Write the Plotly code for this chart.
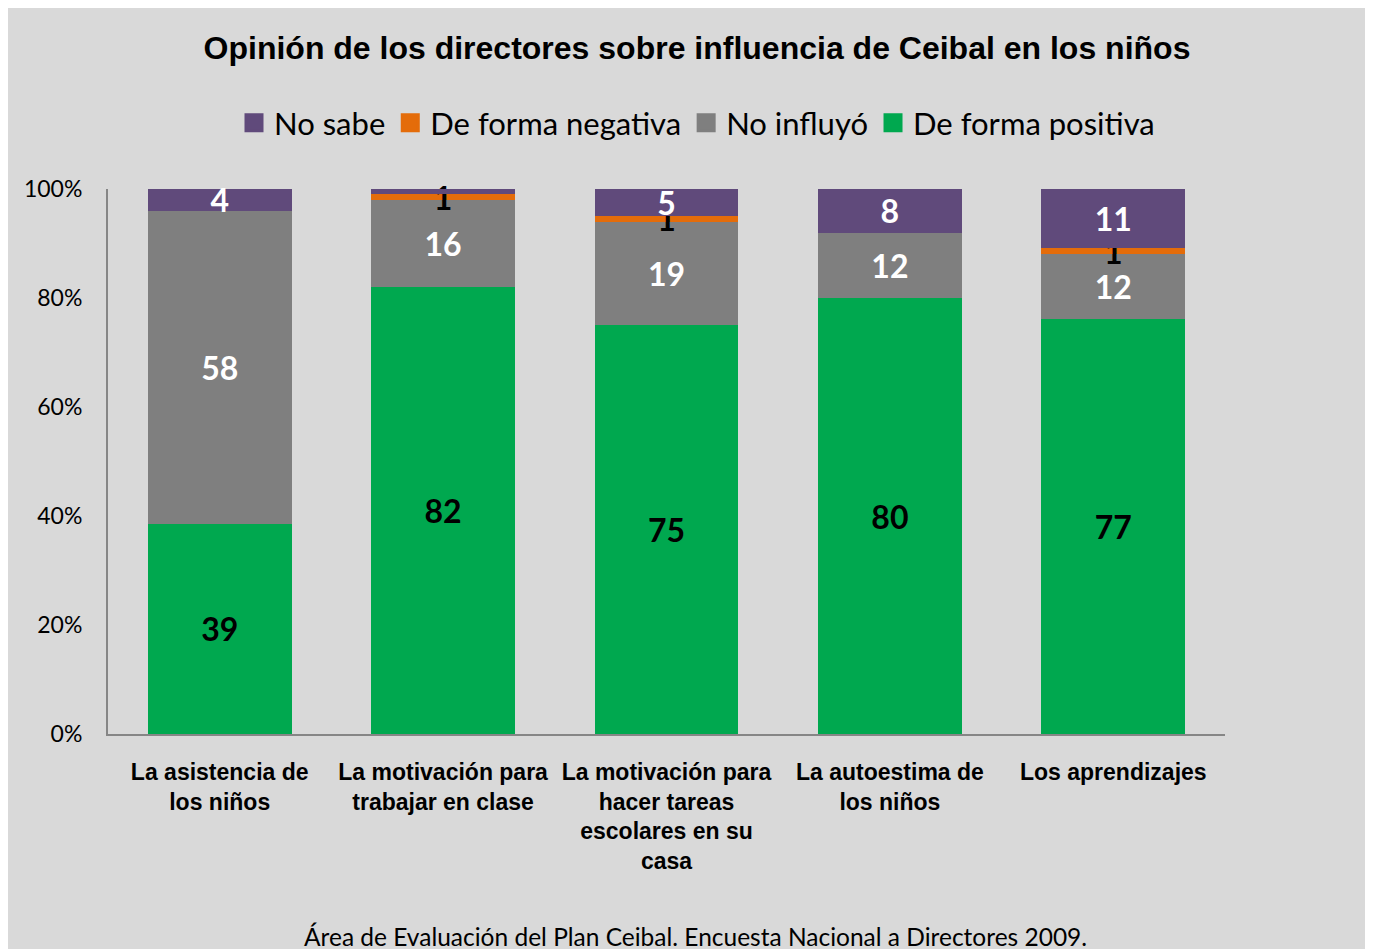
import plotly.graph_objects as go

# ---- data ----
categories = ["La asistencia de los niños", "La motivación para trabajar en clase",
              "La motivación para hacer tareas escolares en su casa",
              "La autoestima de los niños", "Los aprendizajes"]
tick_labels = ["La asistencia de<br>los niños", "La motivación para<br>trabajar en clase",
               "La motivación para<br>hacer tareas<br>escolares en su<br>casa",
               "La autoestima de<br>los niños", "Los aprendizajes"]
positiva = [39, 82, 75, 80, 77]
no_influyo = [58, 16, 19, 12, 12]
negativa = [0, 1, 1, 0, 1]
no_sabe = [4, 1, 5, 8, 11]

lbl_positiva = ["39", "82", "75", "80", "77"]
lbl_no_influyo = ["58", "16", "19", "12", "12"]
lbl_negativa = ["", "1", "1", "", "1"]
lbl_no_sabe = ["4", "", "5", "8", "11"]

y_ticks = [0, 20, 40, 60, 80, 100]
y_tick_labels = ["0%", "20%", "40%", "60%", "80%", "100%"]

# ---- style ----
C_GREEN = "#00a84f"
C_GRAY = "#7f7f7f"
C_ORANGE = "#e46c0a"
C_PURPLE = "#604a7b"
BODY = "Lato"
ARIAL = "Liberation Sans, Arial"

series = [
    ("De forma positiva", positiva, lbl_positiva, C_GREEN, "black"),
    ("No influyó", no_influyo, lbl_no_influyo, C_GRAY, "white"),
    ("De forma negativa", negativa, lbl_negativa, C_ORANGE, "black"),
    ("No sabe", no_sabe, lbl_no_sabe, C_PURPLE, "white"),
]

fig = go.Figure()
for name, vals, labels, color, tcolor in series:
    fig.add_trace(go.Bar(
        x=categories, y=vals, name=name, showlegend=False,
        marker=dict(color=color, line=dict(width=0)),
        text=labels, textposition="inside", insidetextanchor="middle",
        textangle=0, constraintext="none", cliponaxis=False,
        textfont=dict(family=BODY, size=32, color=tcolor, weight="bold"),
        hoverinfo="skip",
    ))

# legend entries with larger square swatches
for name, vals, labels, color, tcolor in reversed(series):
    fig.add_trace(go.Scatter(
        x=[None], y=[None], mode="markers", name=name,
        marker=dict(symbol="square", size=18, color=color,
                    line=dict(color=color, width=3)),
        hoverinfo="skip",
    ))

W, H = 1373, 949
L, R, T, B = 100, 156, 181, 223
pw, ph = W - L - R, H - T - B
BOT = H - B

fig.update_layout(
    width=W, height=H,
    barmode="stack", barnorm="percent", bargap=0.356,
    paper_bgcolor="#d9d9d9", plot_bgcolor="rgba(0,0,0,0)",
    margin=dict(l=L, r=R, t=T, b=B, autoexpand=False),
    title=dict(text="<b>Opinión de los directores sobre influencia de Ceibal en los niños</b>",
               font=dict(family=ARIAL, size=32, color="black"),
               x=689 / W, xanchor="center", y=1 - 40 / H, yanchor="middle",
               xref="container", yref="container"),
    legend=dict(orientation="h", traceorder="normal", itemsizing="trace",
                x=(689 - L) / pw, xanchor="center",
                y=(BOT - 115) / ph, yanchor="middle",
                font=dict(family=BODY, size=31, color="black"),
                bgcolor="rgba(0,0,0,0)", itemclick=False, itemwidth=30),
    showlegend=True,
    xaxis=dict(tickmode="array", tickvals=categories, ticktext=tick_labels,
               tickfont=dict(family=ARIAL, size=23, color="black", weight="bold"),
               showline=True, linecolor="#868686", linewidth=2,
               ticks="", ticklabelstandoff=16, showgrid=False, fixedrange=True),
    yaxis=dict(range=[0, 100], tickmode="array", tickvals=y_ticks, ticktext=y_tick_labels,
               tickfont=dict(family=BODY, size=23, color="black"),
               showline=True, linecolor="#868686", linewidth=2,
               ticks="", ticklabelstandoff=19, showgrid=False, zeroline=False,
               fixedrange=True),
    annotations=[dict(text="Área de Evaluación del Plan Ceibal. Encuesta Nacional a Directores 2009.",
                      xref="paper", yref="paper",
                      x=(687 - L) / pw, y=(BOT - 928) / ph,
                      xanchor="center", yanchor="middle", showarrow=False,
                      font=dict(family=BODY, size=24.5, color="black"))],
)

fig.write_html("out.html")
